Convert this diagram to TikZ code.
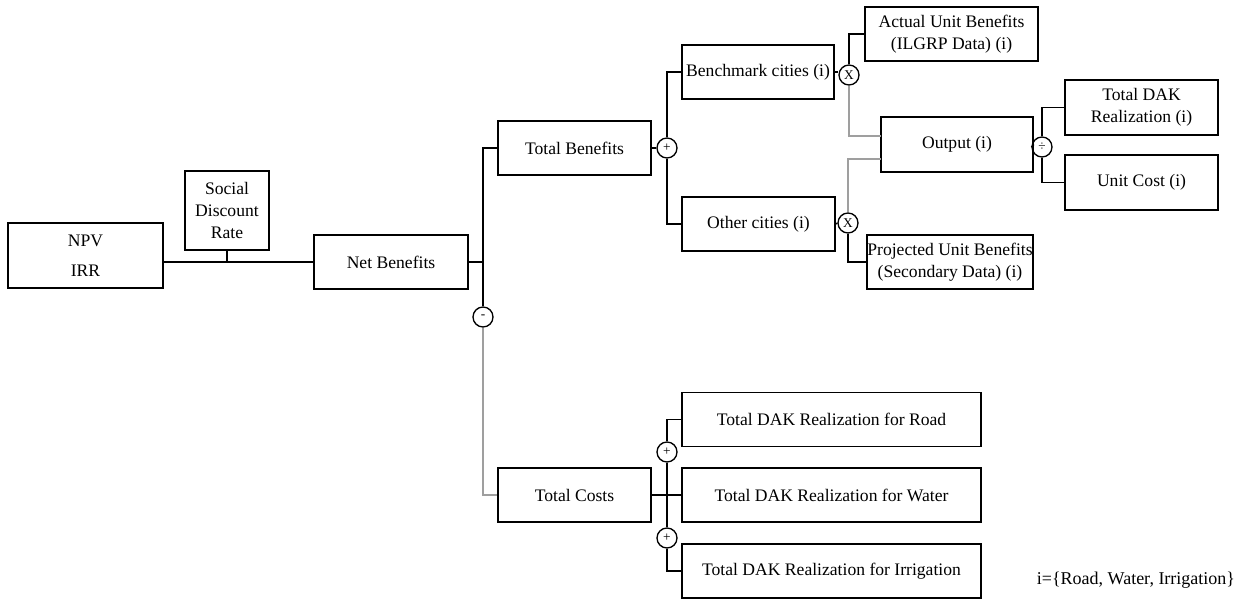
\documentclass[tikz,border=0pt]{standalone}
\usepackage{fontspec}
\setmainfont{Liberation Serif}

\tikzset{
  block/.style={draw, line width=1.2pt, inner sep=0pt, align=center,
    minimum width=114.75pt, minimum height=40.5pt,
    font=\fontsize{13.2pt}{16.3pt}\selectfont},
  op/.style={draw, circle, line width=1pt, minimum size=15pt, inner sep=0pt,
    font=\fontsize{10pt}{10pt}\selectfont},
  link/.style={line width=1pt},
  greylink/.style={line width=1pt, draw=gray!75}
}

\begin{document}
\begin{tikzpicture}[x=0.75pt, y=-0.75pt]
    \useasboundingbox (0,0) rectangle (1238,599);

    % Result and discount rate
    \node[block, minimum width=116.25pt, minimum height=48.75pt] (npv)
      at (85.5,255.5) {NPV\\[6.2pt]IRR};
    \node[block, minimum width=63pt, minimum height=59.25pt] (sdr)
      at (227,210.5) {Social\\Discount\\Rate};
    \node[block, minimum width=115.5pt] (net)
      at (391,262) {Net Benefits};

    % Benefit side
    \node[block] (totben)
      at (574.5,148) {Total Benefits};
    \node[block, minimum width=114pt] (bench)
      at (758,72) {Benchmark cities (i)};
    \node[block] (other)
      at (758.5,224) {Other cities (i)};
    \node[block, minimum width=129.75pt] (actual)
      at (951.5,34) {Actual Unit Benefits\\(ILGRP Data) (i)};
    \node[block, minimum width=124.5pt] (proj)
      at (950,262) {Projected Unit Benefits\\(Secondary Data) (i)};
    \node[block, minimum width=114pt, minimum height=41.25pt] (output)
      at (957,144.5) {Output (i)};
    \node[block, minimum height=41.25pt] (dak)
      at (1141.5,107.5) {Total DAK\\Realization (i)};
    \node[block, minimum height=41.25pt] (ucost)
      at (1141.5,182.5) {Unit Cost (i)};

    % Cost side
    \node[block] (totcost)
      at (574.5,495) {Total Costs};
    \foreach \name/\yy/\txt in {road/419.5/Road, water/495/Water, irr/571/Irrigation} {
      \node[block, minimum width=224.25pt] (\name)
        at (831.5,\yy) {Total DAK Realization for \txt};
    }

    % Operators
    \node[op] (minus) at (483,317) {-};
    \node[op] (plusb) at (667,148) {+};
    \node[op] (xbench) at (849,75) {X};
    \node[op] (xother) at (848,223) {X};
    \node[op] (div) at (1042,147) {÷};
    \node[op] (plusr) at (667,452) {+};
    \node[op] (plusi) at (667,538) {+};

    \coordinate (outtop) at (881,136);
    \coordinate (outbot) at (881,159);

    % Connectors
    \draw[link] (net.west -| npv.east) -- (net.west);
    \draw[link] (sdr.south) -- (sdr.south |- net.west);
    \draw[link] (net.east) -- (net.east -| minus);
    \draw[link] (totben.west) -| (minus.north);
    \draw[greylink] (minus.south) |- (totcost.west);

    \draw[link] (totben.east) -- (plusb.west);
    \draw[link] (bench.west) -| (plusb.north);
    \draw[link] (other.west) -| (plusb.south);

    \draw[link] (bench.east) -- (bench.east -| xbench.west);
    \draw[link] (xbench.north) |- (actual.west);
    \draw[greylink] (xbench.south) |- (outtop);
    \draw[link] (other.east) -- (xother.west);
    \draw[greylink] (xother.north) |- (outbot);
    \draw[link] (xother.south) |- (proj.west);

    \draw[link] (output.east) -- (div.west);
    \draw[link] (div.north) |- (dak.west);
    \draw[link] (div.south) |- (ucost.west);

    \draw[link] (totcost.east) -- (water.west);
    \draw[link] (road.west) -| (plusr.north);
    \draw[link] (plusr.south) -- (plusi.north);
    \draw[link] (plusi.south) |- (irr.west);

    % Note
    \node[font=\fontsize{13.5pt}{16pt}\selectfont, inner sep=0pt] (note)
      at (1136,580) {i=\{Road, Water, Irrigation\}};
\end{tikzpicture}
\end{document}
